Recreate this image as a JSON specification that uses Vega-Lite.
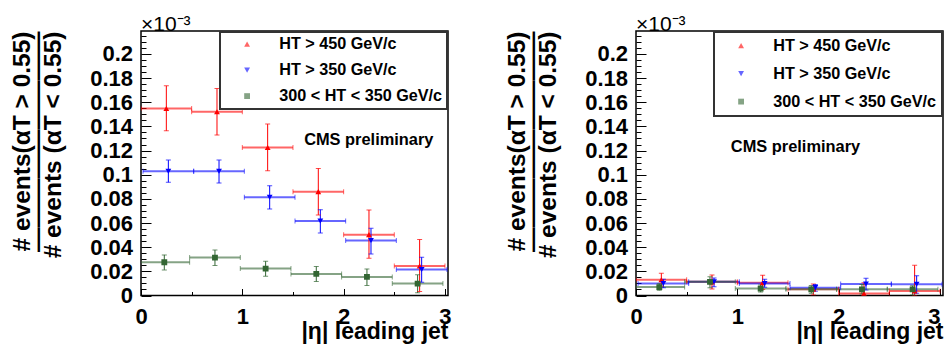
{
  "$schema": "https://vega.github.io/schema/vega-lite/v6.json",
  "padding": {"left": 8, "right": 0, "top": 13, "bottom": 0},
  "spacing": 51,
  "config": {
    "view": {"stroke": "#000", "strokeWidth": 1.5},
    "font": "Liberation Sans",
    "legend": {"orient": "top-right", "offset": 1, "title": null, "strokeColor": "#333", "strokeWidth": 2, "fillColor": "white", "labelFont": "Liberation Sans", "labelFontWeight": "bold", "labelFontSize": 16.2, "labelColor": "black", "labelLimit": 400, "labelOffset": 24, "symbolSize": 34, "symbolStrokeWidth": 0}
  },
  "datasets": {
    "left": [
      {"s": "HT > 450 GeV/c", "x": 0.25, "xlo": 0.0, "xhi": 0.5, "y": 0.1548, "ylo": 0.1364, "yhi": 0.1736},
      {"s": "HT > 450 GeV/c", "x": 0.75, "xlo": 0.5, "xhi": 1.0, "y": 0.1521, "ylo": 0.1328, "yhi": 0.1713},
      {"s": "HT > 450 GeV/c", "x": 1.25, "xlo": 1.0, "xhi": 1.5, "y": 0.1226, "ylo": 0.1033, "yhi": 0.1419},
      {"s": "HT > 450 GeV/c", "x": 1.75, "xlo": 1.5, "xhi": 2.0, "y": 0.0860, "ylo": 0.0667, "yhi": 0.1052},
      {"s": "HT > 450 GeV/c", "x": 2.25, "xlo": 2.0, "xhi": 2.5, "y": 0.0504, "ylo": 0.0309, "yhi": 0.0708},
      {"s": "HT > 450 GeV/c", "x": 2.75, "xlo": 2.5, "xhi": 3.0, "y": 0.0245, "ylo": 0.0033, "yhi": 0.0463},
      {"s": "HT > 350 GeV/c", "x": 0.27, "xlo": 0.02, "xhi": 0.52, "y": 0.1028, "ylo": 0.0937, "yhi": 0.1121},
      {"s": "HT > 350 GeV/c", "x": 0.77, "xlo": 0.52, "xhi": 1.02, "y": 0.1028, "ylo": 0.0931, "yhi": 0.1121},
      {"s": "HT > 350 GeV/c", "x": 1.27, "xlo": 1.02, "xhi": 1.52, "y": 0.0813, "ylo": 0.0716, "yhi": 0.0909},
      {"s": "HT > 350 GeV/c", "x": 1.77, "xlo": 1.52, "xhi": 2.02, "y": 0.0617, "ylo": 0.0518, "yhi": 0.0711},
      {"s": "HT > 350 GeV/c", "x": 2.27, "xlo": 2.02, "xhi": 2.52, "y": 0.0455, "ylo": 0.0344, "yhi": 0.0556},
      {"s": "HT > 350 GeV/c", "x": 2.77, "xlo": 2.52, "xhi": 3.02, "y": 0.0215, "ylo": 0.0110, "yhi": 0.0317},
      {"s": "300 < HT < 350 GeV/c", "x": 0.23, "xlo": -0.02, "xhi": 0.48, "y": 0.0275, "ylo": 0.0212, "yhi": 0.0336},
      {"s": "300 < HT < 350 GeV/c", "x": 0.73, "xlo": 0.48, "xhi": 0.98, "y": 0.0314, "ylo": 0.0248, "yhi": 0.0377},
      {"s": "300 < HT < 350 GeV/c", "x": 1.23, "xlo": 0.98, "xhi": 1.48, "y": 0.0223, "ylo": 0.0160, "yhi": 0.0284},
      {"s": "300 < HT < 350 GeV/c", "x": 1.73, "xlo": 1.48, "xhi": 1.98, "y": 0.0179, "ylo": 0.0116, "yhi": 0.0240},
      {"s": "300 < HT < 350 GeV/c", "x": 2.23, "xlo": 1.98, "xhi": 2.48, "y": 0.0154, "ylo": 0.0083, "yhi": 0.0220},
      {"s": "300 < HT < 350 GeV/c", "x": 2.73, "xlo": 2.48, "xhi": 2.98, "y": 0.0099, "ylo": 0.0022, "yhi": 0.0171}
    ],
    "right": [
      {"s": "HT > 450 GeV/c", "x": 0.25, "xlo": 0.0, "xhi": 0.5, "y": 0.0130, "ylo": 0.0079, "yhi": 0.0184},
      {"s": "HT > 450 GeV/c", "x": 0.75, "xlo": 0.5, "xhi": 1.0, "y": 0.0113, "ylo": 0.0054, "yhi": 0.0170},
      {"s": "HT > 450 GeV/c", "x": 1.25, "xlo": 1.0, "xhi": 1.5, "y": 0.0106, "ylo": 0.0050, "yhi": 0.0168},
      {"s": "HT > 450 GeV/c", "x": 1.75, "xlo": 1.5, "xhi": 2.0, "y": 0.0051, "ylo": 0.0005, "yhi": 0.0095},
      {"s": "HT > 450 GeV/c", "x": 2.25, "xlo": 2.0, "xhi": 2.5, "y": 0.0017, "ylo": 0.0, "yhi": 0.0106},
      {"s": "HT > 450 GeV/c", "x": 2.75, "xlo": 2.5, "xhi": 3.0, "y": 0.0037, "ylo": 0.0, "yhi": 0.0250},
      {"s": "HT > 350 GeV/c", "x": 0.27, "xlo": 0.02, "xhi": 0.52, "y": 0.0100, "ylo": 0.0065, "yhi": 0.0134},
      {"s": "HT > 350 GeV/c", "x": 0.77, "xlo": 0.52, "xhi": 1.02, "y": 0.0114, "ylo": 0.0072, "yhi": 0.0145},
      {"s": "HT > 350 GeV/c", "x": 1.27, "xlo": 1.02, "xhi": 1.52, "y": 0.0100, "ylo": 0.0068, "yhi": 0.0134},
      {"s": "HT > 350 GeV/c", "x": 1.77, "xlo": 1.52, "xhi": 2.02, "y": 0.0065, "ylo": 0.0035, "yhi": 0.0092},
      {"s": "HT > 350 GeV/c", "x": 2.27, "xlo": 2.02, "xhi": 2.52, "y": 0.0095, "ylo": 0.0046, "yhi": 0.0142},
      {"s": "HT > 350 GeV/c", "x": 2.77, "xlo": 2.52, "xhi": 3.02, "y": 0.0093, "ylo": 0.0018, "yhi": 0.0164},
      {"s": "300 < HT < 350 GeV/c", "x": 0.23, "xlo": -0.02, "xhi": 0.48, "y": 0.0070, "ylo": 0.0043, "yhi": 0.0098},
      {"s": "300 < HT < 350 GeV/c", "x": 0.73, "xlo": 0.48, "xhi": 0.98, "y": 0.0113, "ylo": 0.0065, "yhi": 0.0155},
      {"s": "300 < HT < 350 GeV/c", "x": 1.23, "xlo": 0.98, "xhi": 1.48, "y": 0.0057, "ylo": 0.0028, "yhi": 0.0087},
      {"s": "300 < HT < 350 GeV/c", "x": 1.73, "xlo": 1.48, "xhi": 1.98, "y": 0.0051, "ylo": 0.0018, "yhi": 0.0082},
      {"s": "300 < HT < 350 GeV/c", "x": 2.23, "xlo": 1.98, "xhi": 2.48, "y": 0.0051, "ylo": 0.0012, "yhi": 0.0092},
      {"s": "300 < HT < 350 GeV/c", "x": 2.73, "xlo": 2.48, "xhi": 2.98, "y": 0.0051, "ylo": 0.0005, "yhi": 0.0080}
    ]
  },
  "resolve": {"scale": {"color": "independent", "shape": "independent"}},
  "hconcat": [
    {
      "width": 307,
      "height": 264.5,
      "title": {"text": "×10⁻³", "anchor": "start", "frame": "group", "fontSize": 21, "fontWeight": "normal", "font": "Liberation Sans", "color": "black", "offset": -21, "baseline": "alphabetic"},
      "data": {"name": "left"},
      "resolve": {"axis": {"x": "independent", "y": "independent"}},
      "layer": [
        {
          "mark": {"type": "rule", "strokeWidth": 2, "opacity": 0.6, "clip": true},
          "encoding": {
            "x": {"field": "xlo", "type": "quantitative", "scale": {"domain": [0, 3.03], "nice": false}, "axis": null},
            "x2": {"field": "xhi"},
            "y": {"field": "y", "type": "quantitative", "scale": {"domain": [0, 0.219], "nice": false}, "axis": null},
            "color": {"field": "s", "type": "nominal", "scale": {"domain": ["HT > 450 GeV/c", "HT > 350 GeV/c", "300 < HT < 350 GeV/c"], "range": ["#ff0000", "#0000ff", "#336633"]}}
          }
        },
        {
          "mark": {"type": "tick", "orient": "vertical", "size": 5, "thickness": 1, "opacity": 0.6, "clip": true},
          "encoding": {
            "x": {"field": "xlo", "type": "quantitative", "axis": null},
            "y": {"field": "y", "type": "quantitative", "axis": null},
            "color": {"field": "s", "type": "nominal"}
          }
        },
        {
          "mark": {"type": "tick", "orient": "vertical", "size": 5, "thickness": 1, "opacity": 0.6, "clip": true},
          "encoding": {
            "x": {"field": "xhi", "type": "quantitative", "axis": null},
            "y": {"field": "y", "type": "quantitative", "axis": null},
            "color": {"field": "s", "type": "nominal"}
          }
        },
        {
          "mark": {"type": "rule", "strokeWidth": 1, "clip": true},
          "encoding": {
            "x": {"field": "x", "type": "quantitative", "axis": {"orient": "bottom", "values": [0.5, 1.5, 2.5], "labels": false, "domain": false, "grid": false, "title": null, "tickSize": -4, "tickColor": "black", "tickWidth": 1}},
            "y": {"field": "ylo", "type": "quantitative", "axis": {"orient": "left", "values": [0.005, 0.01, 0.015, 0.025, 0.03, 0.035, 0.045, 0.05, 0.055, 0.065, 0.07, 0.075, 0.085, 0.09, 0.095, 0.105, 0.11, 0.115, 0.125, 0.13, 0.135, 0.145, 0.15, 0.155, 0.165, 0.17, 0.175, 0.185, 0.19, 0.195, 0.205, 0.21, 0.215], "labels": false, "domain": false, "grid": false, "title": null, "tickSize": -5, "tickColor": "black", "tickWidth": 1}},
            "y2": {"field": "yhi"},
            "color": {"field": "s", "type": "nominal"}
          }
        },
        {
          "mark": {"type": "tick", "orient": "horizontal", "size": 5, "thickness": 1, "clip": true},
          "encoding": {
            "x": {"field": "x", "type": "quantitative", "axis": null},
            "y": {"field": "ylo", "type": "quantitative", "axis": null},
            "color": {"field": "s", "type": "nominal"}
          }
        },
        {
          "mark": {"type": "tick", "orient": "horizontal", "size": 5, "thickness": 1, "clip": true},
          "encoding": {
            "x": {"field": "x", "type": "quantitative", "axis": null},
            "y": {"field": "yhi", "type": "quantitative", "axis": null},
            "color": {"field": "s", "type": "nominal"}
          }
        },
        {
          "mark": {"type": "point", "filled": true, "size": 34, "opacity": 1, "strokeWidth": 0, "clip": true},
          "encoding": {
            "x": {"field": "x", "type": "quantitative", "axis": {"orient": "bottom", "values": [0, 1, 2, 3], "format": "d", "domain": false, "grid": false, "tickSize": -7, "tickColor": "black", "tickWidth": 1, "labelPadding": 18, "labelFlush": false, "labelOverlap": false, "labelFont": "Liberation Sans", "labelFontWeight": "bold", "labelFontSize": 22, "labelColor": "black", "title": "|η| leading jet", "titleAnchor": "end", "titleFont": "Liberation Sans", "titleFontWeight": "bold", "titleFontSize": 23, "titleColor": "black", "titlePadding": -7}},
            "y": {"field": "y", "type": "quantitative", "axis": {"orient": "left", "values": [0, 0.02, 0.04, 0.06, 0.08, 0.1, 0.12, 0.14, 0.16, 0.18, 0.2], "format": "~g", "domain": false, "grid": false, "tickSize": -10, "tickColor": "black", "tickWidth": 1, "labelPadding": 18.5, "labelOverlap": false, "labelFont": "Liberation Sans", "labelFontWeight": "bold", "labelFontSize": 22, "labelColor": "black", "title": ["# events(αT > 0.55)", "—————————", "# events (αT < 0.55)"], "titleAnchor": "end", "titleFont": "Liberation Sans", "titleFontWeight": "bold", "titleFontSize": 24.5, "titleLineHeight": 15.75, "titleColor": "black", "titlePadding": 24}},
            "color": {"field": "s", "type": "nominal", "legend": {"padding": 4, "symbolOffset": 15, "rowPadding": 9}},
            "shape": {"field": "s", "type": "nominal", "scale": {"domain": ["HT > 450 GeV/c", "HT > 350 GeV/c", "300 < HT < 350 GeV/c"], "range": ["triangle-up", "triangle-down", "square"]}, "legend": {"padding": 4, "symbolOffset": 15, "rowPadding": 9}}
          }
        },
        {
          "data": {"values": [{"label": "CMS preliminary"}]},
          "mark": {"type": "text", "align": "left", "baseline": "middle", "font": "Liberation Sans", "fontWeight": "bold", "fontSize": 16.4, "color": "black"},
          "encoding": {
            "x": {"datum": 1.61, "type": "quantitative", "axis": null},
            "y": {"datum": 0.129, "type": "quantitative", "axis": null},
            "text": {"field": "label", "type": "nominal"}
          }
        }
      ]
    },
    {
      "width": 307,
      "height": 264.5,
      "title": {"text": "×10⁻³", "anchor": "start", "frame": "group", "fontSize": 21, "fontWeight": "normal", "font": "Liberation Sans", "color": "black", "offset": -21, "baseline": "alphabetic"},
      "data": {"name": "right"},
      "resolve": {"axis": {"x": "independent", "y": "independent"}},
      "layer": [
        {
          "mark": {"type": "rule", "strokeWidth": 2, "opacity": 0.6, "clip": true},
          "encoding": {
            "x": {"field": "xlo", "type": "quantitative", "scale": {"domain": [0, 3.03], "nice": false}, "axis": null},
            "x2": {"field": "xhi"},
            "y": {"field": "y", "type": "quantitative", "scale": {"domain": [0, 0.219], "nice": false}, "axis": null},
            "color": {"field": "s", "type": "nominal", "scale": {"domain": ["HT > 450 GeV/c", "HT > 350 GeV/c", "300 < HT < 350 GeV/c"], "range": ["#ff0000", "#0000ff", "#336633"]}}
          }
        },
        {
          "mark": {"type": "tick", "orient": "vertical", "size": 5, "thickness": 1, "opacity": 0.6, "clip": true},
          "encoding": {
            "x": {"field": "xlo", "type": "quantitative", "axis": null},
            "y": {"field": "y", "type": "quantitative", "axis": null},
            "color": {"field": "s", "type": "nominal"}
          }
        },
        {
          "mark": {"type": "tick", "orient": "vertical", "size": 5, "thickness": 1, "opacity": 0.6, "clip": true},
          "encoding": {
            "x": {"field": "xhi", "type": "quantitative", "axis": null},
            "y": {"field": "y", "type": "quantitative", "axis": null},
            "color": {"field": "s", "type": "nominal"}
          }
        },
        {
          "mark": {"type": "rule", "strokeWidth": 1, "clip": true},
          "encoding": {
            "x": {"field": "x", "type": "quantitative", "axis": {"orient": "bottom", "values": [0.5, 1.5, 2.5], "labels": false, "domain": false, "grid": false, "title": null, "tickSize": -4, "tickColor": "black", "tickWidth": 1}},
            "y": {"field": "ylo", "type": "quantitative", "axis": {"orient": "left", "values": [0.005, 0.01, 0.015, 0.025, 0.03, 0.035, 0.045, 0.05, 0.055, 0.065, 0.07, 0.075, 0.085, 0.09, 0.095, 0.105, 0.11, 0.115, 0.125, 0.13, 0.135, 0.145, 0.15, 0.155, 0.165, 0.17, 0.175, 0.185, 0.19, 0.195, 0.205, 0.21, 0.215], "labels": false, "domain": false, "grid": false, "title": null, "tickSize": -5, "tickColor": "black", "tickWidth": 1}},
            "y2": {"field": "yhi"},
            "color": {"field": "s", "type": "nominal"}
          }
        },
        {
          "mark": {"type": "tick", "orient": "horizontal", "size": 5, "thickness": 1, "clip": true},
          "encoding": {
            "x": {"field": "x", "type": "quantitative", "axis": null},
            "y": {"field": "ylo", "type": "quantitative", "axis": null},
            "color": {"field": "s", "type": "nominal"}
          }
        },
        {
          "mark": {"type": "tick", "orient": "horizontal", "size": 5, "thickness": 1, "clip": true},
          "encoding": {
            "x": {"field": "x", "type": "quantitative", "axis": null},
            "y": {"field": "yhi", "type": "quantitative", "axis": null},
            "color": {"field": "s", "type": "nominal"}
          }
        },
        {
          "mark": {"type": "point", "filled": true, "size": 34, "opacity": 1, "strokeWidth": 0, "clip": true},
          "encoding": {
            "x": {"field": "x", "type": "quantitative", "axis": {"orient": "bottom", "values": [0, 1, 2, 3], "format": "d", "domain": false, "grid": false, "tickSize": -7, "tickColor": "black", "tickWidth": 1, "labelPadding": 18, "labelFlush": false, "labelOverlap": false, "labelAlign": {"condition": {"test": "datum.value == 3", "value": "right"}, "value": "center"}, "labelFont": "Liberation Sans", "labelFontWeight": "bold", "labelFontSize": 22, "labelColor": "black", "title": "|η| leading jet", "titleAnchor": "end", "titleFont": "Liberation Sans", "titleFontWeight": "bold", "titleFontSize": 23, "titleColor": "black", "titlePadding": -7}},
            "y": {"field": "y", "type": "quantitative", "axis": {"orient": "left", "values": [0, 0.02, 0.04, 0.06, 0.08, 0.1, 0.12, 0.14, 0.16, 0.18, 0.2], "format": "~g", "domain": false, "grid": false, "tickSize": -10, "tickColor": "black", "tickWidth": 1, "labelPadding": 18.5, "labelOverlap": false, "labelFont": "Liberation Sans", "labelFontWeight": "bold", "labelFontSize": 22, "labelColor": "black", "title": ["# events(αT > 0.55)", "—————————", "# events (αT < 0.55)"], "titleAnchor": "end", "titleFont": "Liberation Sans", "titleFontWeight": "bold", "titleFontSize": 24.5, "titleLineHeight": 15.75, "titleColor": "black", "titlePadding": 24}},
            "color": {"field": "s", "type": "nominal", "legend": {"padding": 5.5, "symbolOffset": 13.5, "rowPadding": 11}},
            "shape": {"field": "s", "type": "nominal", "scale": {"domain": ["HT > 450 GeV/c", "HT > 350 GeV/c", "300 < HT < 350 GeV/c"], "range": ["triangle-up", "triangle-down", "square"]}, "legend": {"padding": 5.5, "symbolOffset": 13.5, "rowPadding": 11}}
          }
        },
        {
          "data": {"values": [{"label": "CMS preliminary"}]},
          "mark": {"type": "text", "align": "left", "baseline": "middle", "font": "Liberation Sans", "fontWeight": "bold", "fontSize": 16.4, "color": "black"},
          "encoding": {
            "x": {"datum": 0.936, "type": "quantitative", "axis": null},
            "y": {"datum": 0.123, "type": "quantitative", "axis": null},
            "text": {"field": "label", "type": "nominal"}
          }
        }
      ]
    }
  ]
}
